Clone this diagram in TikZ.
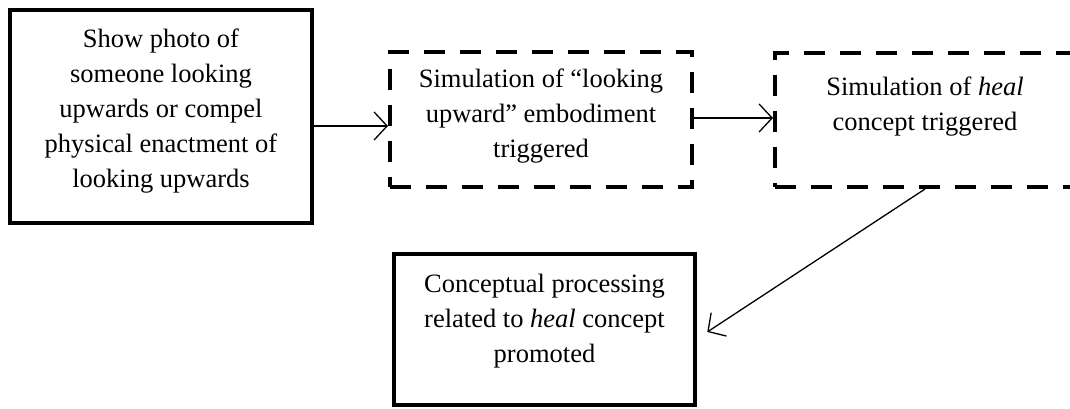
\documentclass[tikz,border=0pt]{standalone}
\usepackage{fontspec}
\setmainfont{Liberation Serif}
\usetikzlibrary{arrows.meta}
\begin{document}
\begin{tikzpicture}[x=1pt,y=-1pt,
  solidbox/.style={draw, line width=4.5pt, inner sep=0pt},
  dashbox/.style={draw, line width=4pt, dash pattern=on 21pt off 15pt, inner sep=0pt},
  txt/.style={font=\fontsize{26.5}{35}\selectfont, align=center, inner sep=0pt},
  arr/.style={line width=1.3pt, -{Straight Barb[length=13pt,width=28pt]}}]
\clip (0,0) rectangle (1070,409);
\fill[white] (0,0) rectangle (1070,409);
% boxes
\node[solidbox, minimum width=302pt, minimum height=213pt] (b1) at (161,116.5) {};
\node[dashbox, minimum width=302pt, minimum height=135pt] (b2) at (541,119.5) {};
\node[dashbox, minimum width=300pt, minimum height=134pt] (b3) at (925,120) {};
\node[solidbox, minimum width=301pt, minimum height=151pt] (b4) at (544.5,329.5) {};
% texts
\node[txt] (t1) at (161,111) {Show photo of\\someone looking\\upwards or compel\\physical enactment of\\looking upwards};
\node[txt] (t2) at (541,116) {Simulation of “looking\\upward” embodiment\\triggered};
\node[txt] (t3) at (925,106.5) {Simulation of \textit{heal}\\concept triggered};
\node[txt] (t4) at (544.5,321) {Conceptual processing\\related to \textit{heal} concept\\promoted};
% connectors
\coordinate (a1) at ([yshift=-9.5pt]b1.east);
\coordinate (a2) at ([yshift=1.5pt]b2.east);
\coordinate (a3) at ([xshift=10pt,yshift=-2.5pt]b4.east);
\draw[arr] (a1) -- (a1 -| b2.west);
\draw[arr] (a2) -- (a2 -| b3.west);
\draw[arr] (b3.south) -- (a3);
\end{tikzpicture}
\end{document}
